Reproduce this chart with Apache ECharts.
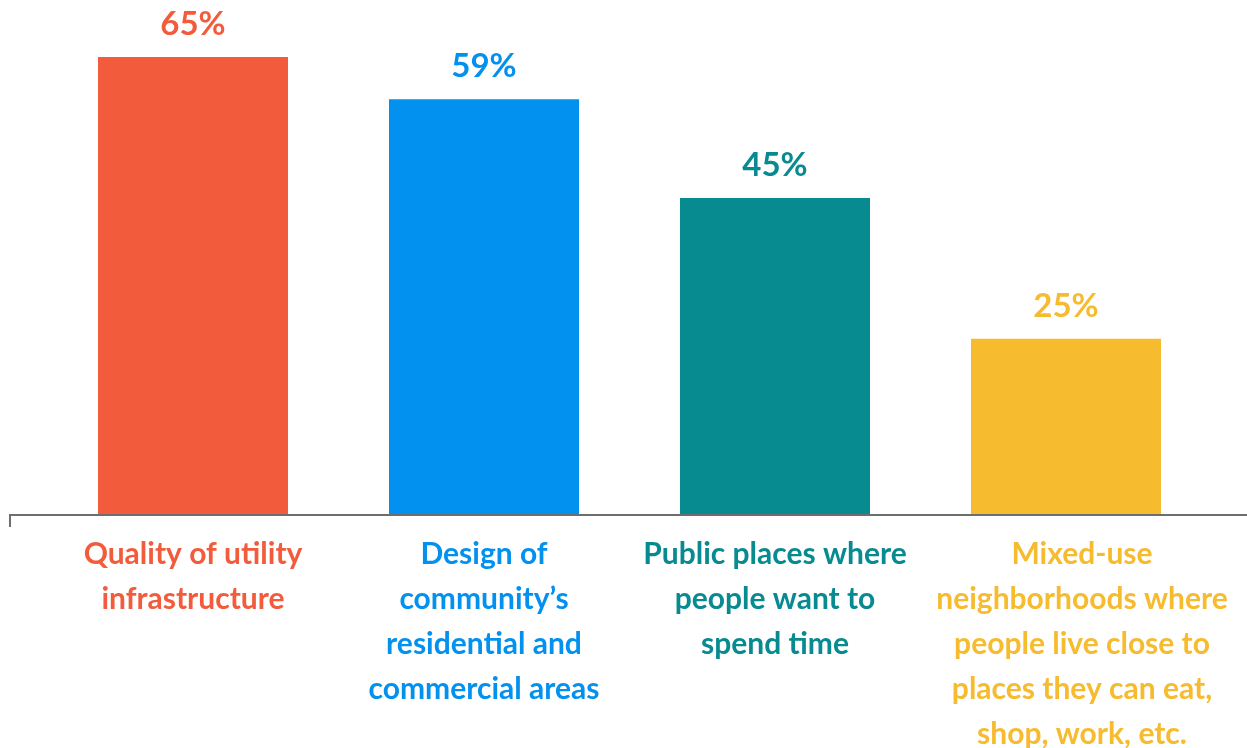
<!DOCTYPE html>
<html>
<head>
<meta charset="utf-8">
<style>
  html, body { margin: 0; padding: 0; background: #ffffff; }
  #chart { width: 1247px; height: 748px; }
</style>
<script src="https://cdn.jsdelivr.net/npm/echarts@6/dist/echarts.min.js"></script>
</head>
<body>
<div id="chart"></div>
<script>
// Share of respondents rating each community feature
const categories = [
  'Quality of utility\ninfrastructure',
  'Design of\ncommunity\u2019s\nresidential and\ncommercial areas',
  'Public places where\npeople want to\nspend time',
  'Mixed-use\nneighborhoods where\npeople live close to\nplaces they can eat,\nshop, work, etc.'
];
const values = [65, 59, 45, 25];
const colors = ['#F25C3C', '#0391EF', '#088A91', '#F6BB2E'];

const FONT = 'Lato, "Open Sans", sans-serif';
const chart = echarts.init(document.getElementById('chart'), null, { renderer: 'canvas' });

const option = {
  animation: false,
  backgroundColor: '#ffffff',
  grid: { left: 47.5, right: 35.5, top: 57, bottom: 233, containLabel: false, outerBoundsMode: 'none' },
  xAxis: {
    type: 'category',
    // the last, longest label sits slightly right of its bar
    data: categories.map((c, i) => i === 3
      ? { value: c, textStyle: { padding: [0, 0, 0, 32] } }
      : c),
    axisLine: { show: false },
    axisTick: { show: false },
    axisLabel: {
      interval: 0,
      margin: 17,
      fontFamily: FONT,
      fontWeight: 'bold',
      fontSize: 30,
      lineHeight: 45,
      align: 'center',
      color: (val, idx) => colors[idx]
    }
  },
  yAxis: {
    type: 'value',
    min: 0,
    max: 65,
    show: false,
    splitLine: { show: false }
  },
  series: [{
    type: 'bar',
    barWidth: 190,
    data: values.map((v, i) => ({
      value: v,
      itemStyle: { color: colors[i] },
      label: { color: colors[i] }
    })),
    label: {
      show: true,
      position: 'top',
      distance: 16,
      fontFamily: FONT,
      fontWeight: 'bold',
      fontSize: 33,
      formatter: p => p.value + '%'
    }
  }]
};
chart.setOption(option);

// Baseline rule spanning the full width, with a short tick at its left end
const y0 = chart.convertToPixel({ yAxisIndex: 0 }, 0);
chart.setOption({
  graphic: [
    { type: 'polyline', shape: { points: [[10, y0 + 12], [10, y0], [1247, y0]] },
      style: { stroke: '#6e6e6e', lineWidth: 2, fill: null }, z: 10 }
  ]
});
</script>
</body>
</html>
